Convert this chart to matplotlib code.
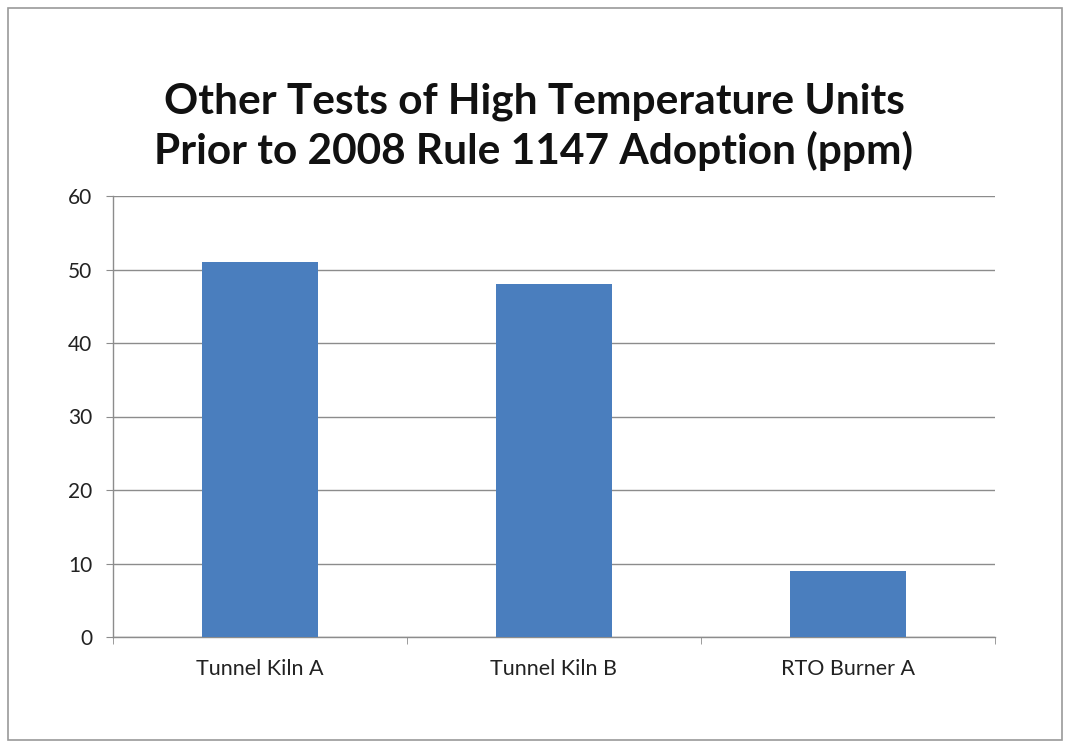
import matplotlib
matplotlib.use("Agg")
import matplotlib.pyplot as plt
from matplotlib.patches import Rectangle

categories = ["Tunnel Kiln A", "Tunnel Kiln B", "RTO Burner A"]
values = [51, 48, 9]
yticks = [0, 10, 20, 30, 40, 50, 60]
title = "Other Tests of High Temperature Units\nPrior to 2008 Rule 1147 Adoption (ppm)"

plt.rcParams['font.family'] = ['Lato', 'DejaVu Sans']

W, H = 1068, 746
fig = plt.figure(figsize=(W / 100, H / 100), dpi=100)
fig.patch.set_facecolor("white")

# outer frame
fig.add_artist(Rectangle((8 / W, 1 - 740 / H), (1062 - 8) / W, (740 - 8) / H,
                         transform=fig.transFigure, fill=False,
                         edgecolor="#9a9a9a", linewidth=1.2))

x0, x1 = 113, 995
y0, y1 = 196, 637
ax = fig.add_axes([x0 / W, 1 - y1 / H, (x1 - x0) / W, (y1 - y0) / H])

pos = list(range(len(categories)))
ax.bar(pos, values, width=0.395, color="#4A7EBE", zorder=3)
ax.set_xlim(-0.5, len(categories) - 0.5)
ax.set_ylim(0, 60)
ax.set_yticks(yticks)
ax.set_yticklabels([str(t) for t in yticks], fontsize=15, color="#222222")
ax.grid(axis="y", color="#8c8c8c", linewidth=1.0, zorder=0)
ax.set_xticks(pos)
ax.set_xticklabels(categories, fontsize=15.5, color="#222222")
ax.tick_params(axis="x", length=0, pad=16)
ax.tick_params(axis="y", length=5, color="#8c8c8c", pad=10)
# category boundary ticks
ax.set_xticks([-0.5, 0.5, 1.5, 2.5], minor=True)
ax.tick_params(axis="x", which="minor", length=5, color="#8c8c8c")
for s in ["top", "right"]:
    ax.spines[s].set_visible(False)
for s in ["left", "bottom"]:
    ax.spines[s].set_color("#8c8c8c")
    ax.spines[s].set_linewidth(1.0)

fig.text(0.5, 1 - 127 / H, title, ha="center", va="center",
         fontsize=30.5, fontweight="bold", color="#111111", linespacing=1.3)

fig.savefig("out.png", dpi=100, facecolor="white")
